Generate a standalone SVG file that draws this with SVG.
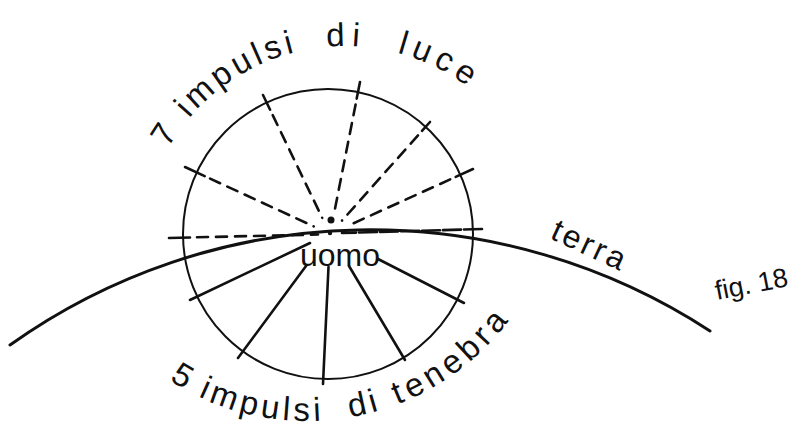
<svg xmlns="http://www.w3.org/2000/svg" width="796" height="439" viewBox="0 0 796 439">
<style>
.ln{stroke:#111;fill:none;stroke-linecap:round}
.c{stroke-width:2}
.d{stroke-width:2.6;stroke-dasharray:11 8}
.dr{stroke-width:2.6;stroke-dasharray:18 3}
.k{stroke-width:2.6}
.s{stroke-width:2.6}
.t{font-family:"Liberation Sans","DejaVu Sans",sans-serif;fill:#111}
</style>
<defs>
<path id="topArc" d="M168.3,148 A204,204 0 0 1 481.5,98.4"/>
<path id="botArc" d="M169.2,380.2 A253,253 0 0 0 519.2,305.8"/>
</defs>
<rect width="796" height="439" fill="#fff"/>

<g id="sphere">
<circle cx="328" cy="234" r="145" class="ln c"/>
</g>

<g id="terra">
<path d="M10,345 A621,621 0 0 1 710,331" class="ln" stroke-width="3"/>
<text class="t" font-size="32" letter-spacing="3" transform="translate(549,238) rotate(25)">terra</text>
</g>

<g id="impulsi-luce" class="ln">
<line class="k" x1="169" y1="238" x2="190" y2="237.5"/>
<line class="d" x1="197" y1="237.3" x2="318" y2="234.5"/>
<line class="k" x1="185" y1="167" x2="204.7" y2="176.1"/>
<line class="d" x1="210.1" y1="178.6" x2="313.7" y2="226.4"/>
<line class="k" x1="263" y1="95" x2="270.1" y2="109.7"/>
<line class="d" x1="272.7" y1="115.1" x2="322.2" y2="217.8"/>
<line class="k" x1="360" y1="82" x2="356.7" y2="98.6"/>
<line class="d" x1="355.6" y1="104.5" x2="333.5" y2="216.3"/>
<line class="k" x1="430" y1="122" x2="422" y2="130.9"/>
<line class="d" x1="418" y1="135.4" x2="342" y2="220.6"/>
<line class="k" x1="473" y1="169" x2="455.7" y2="176.9"/>
<line class="d" x1="450.2" y1="179.4" x2="346.4" y2="226.5"/>
<line class="dr" x1="482" y1="229" x2="342" y2="233"/>
</g>

<g id="impulsi-tenebra" class="ln">
<line class="s" x1="310" y1="243" x2="190" y2="300"/>
<line class="s" x1="306" y1="266" x2="238" y2="358"/>
<line class="s" x1="328.5" y1="267" x2="323" y2="384"/>
<line class="s" x1="349" y1="266" x2="405" y2="360"/>
<line class="s" x1="378" y1="259" x2="464" y2="303"/>
</g>

<g id="uomo">
<circle cx="331" cy="220" r="3.5" fill="#111"/>
<circle cx="330" cy="233" r="2.2" fill="#111"/>
<text class="t" font-size="32" x="300" y="266">uomo</text>
</g>

<g id="label-luce" class="t" font-size="33">
<text><textPath href="#topArc" startOffset="0">7</textPath></text>
<text letter-spacing="4"><textPath href="#topArc" startOffset="36">impulsi</textPath></text>
<text letter-spacing="7"><textPath href="#topArc" startOffset="195">di</textPath></text>
<text letter-spacing="6"><textPath href="#topArc" startOffset="266">luce</textPath></text>
</g>

<g id="label-tenebra" class="t" font-size="33">
<text><textPath href="#botArc" startOffset="0">5</textPath></text>
<text letter-spacing="4"><textPath href="#botArc" startOffset="33">impulsi</textPath></text>
<text letter-spacing="4"><textPath href="#botArc" startOffset="189">di</textPath></text>
<text letter-spacing="4.8"><textPath href="#botArc" startOffset="238">tenebra</textPath></text>
</g>

<g id="fig">
<text class="t" font-size="27" transform="translate(717,300) rotate(-11)">fig. 18</text>
</g>
</svg>
